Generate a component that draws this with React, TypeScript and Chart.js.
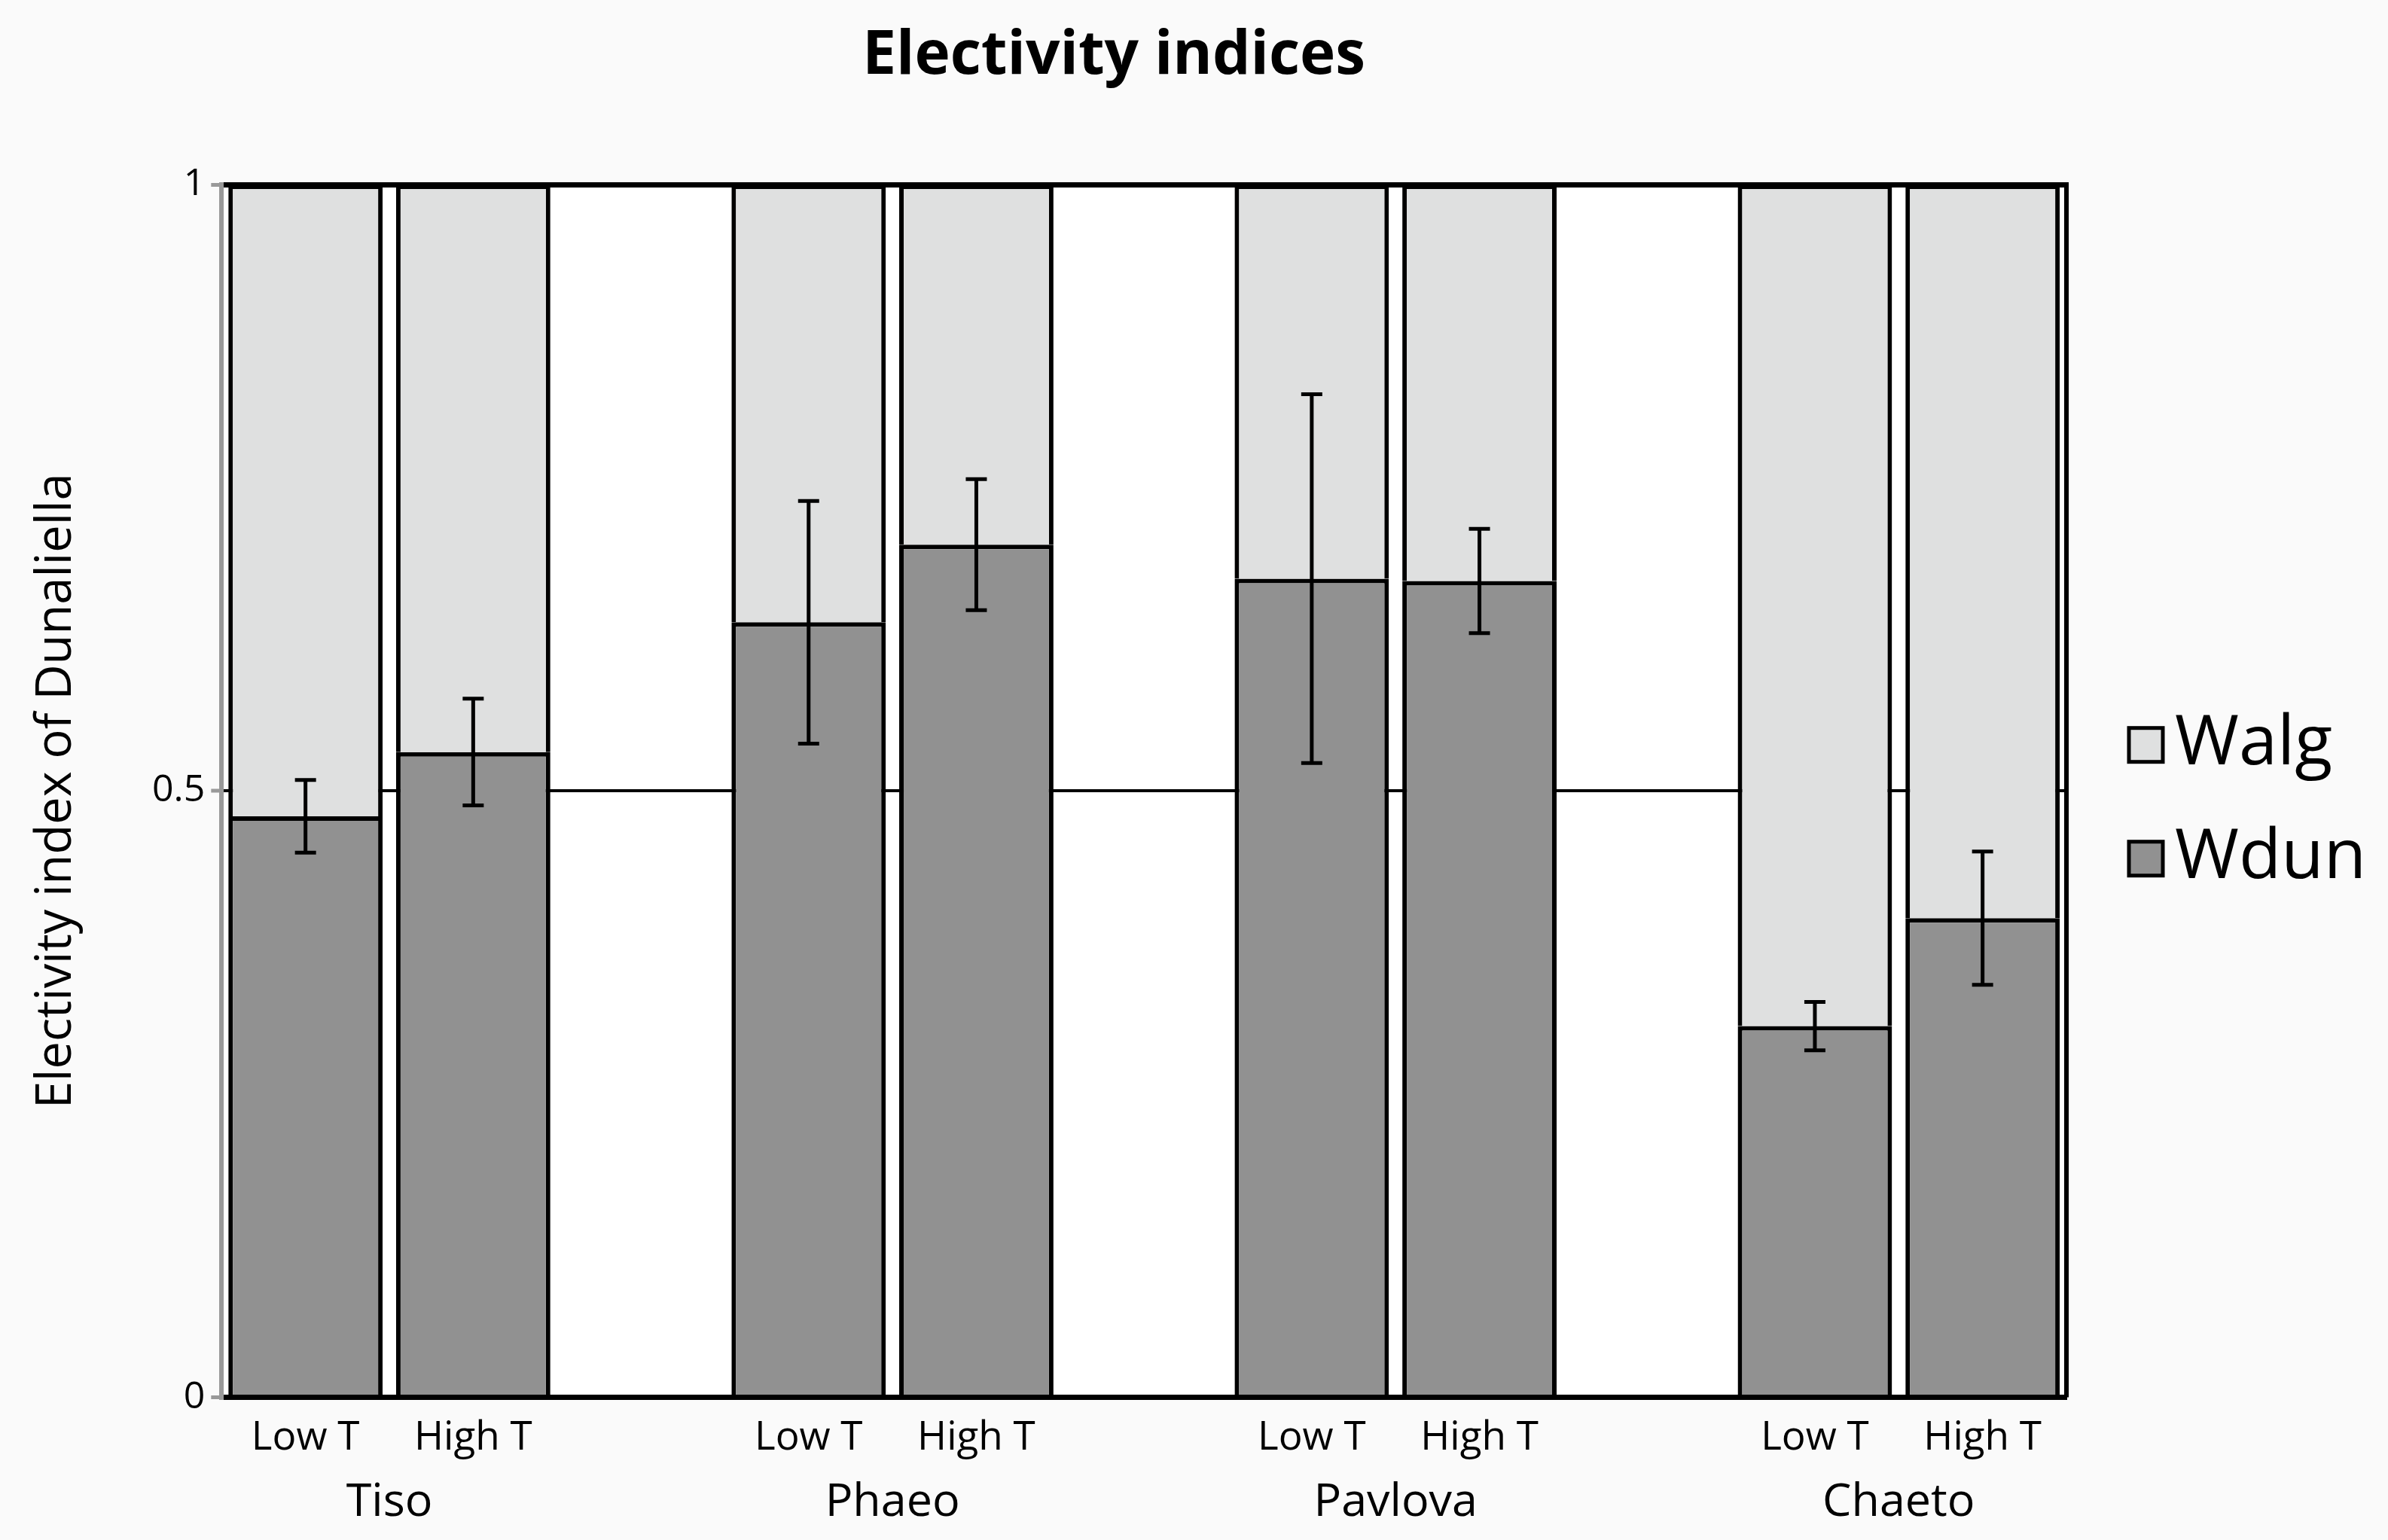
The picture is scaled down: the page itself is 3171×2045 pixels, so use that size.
import React, { useEffect, useRef } from "react";
import { Chart, registerables } from "chart.js";

Chart.register(...registerables);

const categories = ["Low T", "High T", "", "Low T", "High T", "", "Low T", "High T", "", "Low T", "High T"];
const groupNames = ["Tiso", "Phaeo", "Pavlova", "Chaeto"];
const wdun = [0.479, 0.532, null, 0.639, 0.703, null, 0.675, 0.673, null, 0.306, 0.395];
const walg = [0.521, 0.468, null, 0.361, 0.297, null, 0.325, 0.327, null, 0.694, 0.605];
const wdunErr = [0.03, 0.044, null, 0.1, 0.054, null, 0.152, 0.043, null, 0.02, 0.055];
const yTickLabels: Record<string, string> = { "0": "0", "0.5": "0.5", "1": "1" };
const titleText = "Electivity indices";
const yTitle = "Electivity index of Dunaliella";

const FONT = "'Open Sans', sans-serif";

const bgPlugin = {
  id: "bgPlugin",
  beforeDraw(chart: any) {
    const { ctx, chartArea } = chart;
    ctx.save();
    ctx.fillStyle = "#fafafa";
    ctx.fillRect(0, 0, chart.width, chart.height);
    ctx.fillStyle = "#ffffff";
    ctx.fillRect(chartArea.left, chartArea.top, chartArea.right - chartArea.left, chartArea.bottom - chartArea.top);
    ctx.restore();
  },
};

const errorBarPlugin = {
  id: "errorBarPlugin",
  afterDatasetsDraw(chart: any) {
    const { ctx } = chart;
    const meta = chart.getDatasetMeta(0);
    const y = chart.scales.y;
    ctx.save();
    ctx.strokeStyle = "#000";
    ctx.lineWidth = 5;
    wdun.forEach((v, i) => {
      const e = wdunErr[i];
      if (v == null || e == null) return;
      const bar = meta.data[i];
      const x = bar.x;
      const yTop = y.getPixelForValue(v + e);
      const yBot = y.getPixelForValue(v - e);
      const cap = 14;
      ctx.beginPath();
      ctx.moveTo(x, yTop);
      ctx.lineTo(x, yBot);
      ctx.moveTo(x - cap, yTop);
      ctx.lineTo(x + cap, yTop);
      ctx.moveTo(x - cap, yBot);
      ctx.lineTo(x + cap, yBot);
      ctx.stroke();
    });
    ctx.restore();
  },
};

const decorPlugin = {
  id: "decorPlugin",
  afterDraw(chart: any) {
    const { ctx, chartArea } = chart;
    const x = chart.scales.x;
    ctx.save();
    // right frame line
    ctx.strokeStyle = "#000";
    ctx.lineWidth = 6;
    ctx.beginPath();
    ctx.moveTo(chartArea.right, chartArea.top - 3);
    ctx.lineTo(chartArea.right, chartArea.bottom);
    ctx.stroke();

    // group labels
    ctx.fillStyle = "#000";
    ctx.font = `61px ${FONT}`;
    ctx.textAlign = "center";
    ctx.textBaseline = "middle";
    groupNames.forEach((name, g) => {
      const cx = (x.getPixelForValue(g * 3) + x.getPixelForValue(g * 3 + 1)) / 2;
      ctx.fillText(name, cx, chartArea.bottom + 140);
    });

    // title
    ctx.font = `bold 80px ${FONT}`;
    ctx.fillText(titleText, (chartArea.left + chartArea.right) / 2 - 40, 75);

    // legend (Walg above Wdun)
    const ds = chart.data.datasets;
    const items = [ds[1], ds[0]];
    const cy = (chartArea.top + chartArea.bottom) / 2;
    const ys = [cy - 61, cy + 90];
    const bx = chartArea.right + 83;
    const size = 45;
    ctx.textAlign = "left";
    ctx.font = `92px ${FONT}`;
    items.forEach((d: any, k: number) => {
      const yy = ys[k];
      ctx.fillStyle = d.backgroundColor;
      ctx.fillRect(bx, yy - size / 2, size, size);
      ctx.lineWidth = 5;
      ctx.strokeStyle = "#000";
      ctx.strokeRect(bx, yy - size / 2, size, size);
      ctx.fillStyle = "#000";
      ctx.fillText(d.label, bx + size + 16, yy);
    });
    ctx.restore();
  },
};

export default function App() {
  const ref = useRef<HTMLCanvasElement | null>(null);
  useEffect(() => {
    if (!ref.current) return;
    const chart = new Chart(ref.current, {
      type: "bar",
      data: {
        labels: categories,
        datasets: [
          {
            label: "Wdun",
            data: wdun as any,
            backgroundColor: "#919191",
            borderColor: "#000",
            borderWidth: 6,
            barPercentage: 0.92,
            categoryPercentage: 1,
          },
          {
            label: "Walg",
            data: walg as any,
            backgroundColor: "#dfe0e0",
            borderColor: "#000",
            borderWidth: 6,
            barPercentage: 0.92,
            categoryPercentage: 1,
          },
        ],
      },
      options: {
        animation: false,
        responsive: true,
        maintainAspectRatio: false,
        devicePixelRatio: 1,
        layout: { padding: { left: 0, right: 427, top: 245, bottom: 80 } },
        plugins: {
          title: { display: false },
          legend: { display: false },
          tooltip: { enabled: false },
        },
        scales: {
          x: {
            stacked: true,
            grid: { display: false, drawTicks: false },
            border: { display: true, color: "#000", width: 7 },
            ticks: {
              autoSkip: false,
              maxRotation: 0,
              padding: 23,
              color: "#000",
              font: { family: FONT, size: 53 },
            },
          },
          y: {
            stacked: true,
            min: 0,
            max: 1,
            ticks: {
              stepSize: 0.5,
              padding: 8,
              color: "#000",
              font: { family: FONT, size: 50 },
              callback: (v: any) => yTickLabels[String(v)] ?? String(v),
            },
            grid: {
              color: "#000",
              lineWidth: (c: any) => (c.tick && c.tick.value === 0.5 ? 4 : 7),
              tickColor: "#999",
              tickLength: 14,
              tickWidth: 5,
            },
            border: { display: true, color: "#999", width: 6 },
            title: {
              display: true,
              text: yTitle,
              color: "#000",
              font: { family: FONT, size: 65 },
              padding: { top: 36, bottom: 80 },
            },
          },
        },
      } as any,
      plugins: [bgPlugin, errorBarPlugin, decorPlugin],
    });
    return () => chart.destroy();
  }, []);
  return (
    <div style={{ position: "absolute", left: 0, top: 0, width: "3171px", height: "2045px" }}>
      <canvas ref={ref} />
    </div>
  );
}
